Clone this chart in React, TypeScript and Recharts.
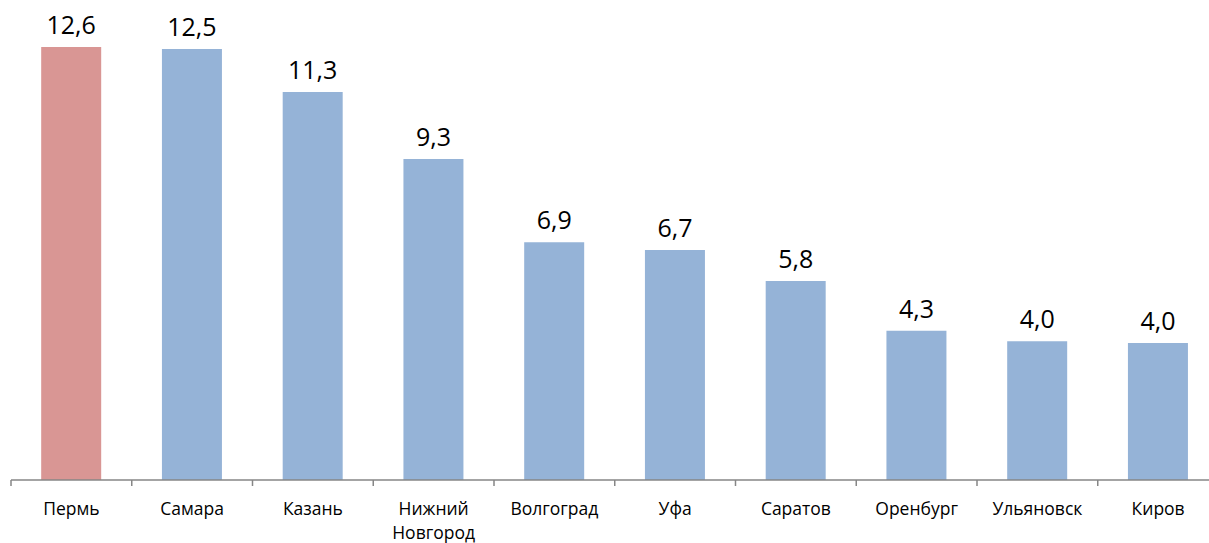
import React from "react";
import { BarChart, Bar, XAxis, YAxis, Cell, LabelList } from "recharts";

const categories = [
  "Пермь",
  "Самара",
  "Казань",
  "Нижний\nНовгород",
  "Волгоград",
  "Уфа",
  "Саратов",
  "Оренбург",
  "Ульяновск",
  "Киров",
];
const values = [12.6, 12.54, 11.29, 9.34, 6.92, 6.69, 5.79, 4.34, 4.04, 3.99];
const highlightIndex = 0;

const CHART_W = 1222;
const CHART_H = 543;
const MARGIN = { top: 47, right: 3.5, left: 11, bottom: 3 };
const BAND = (CHART_W - MARGIN.left - MARGIN.right) / categories.length;

const data = categories.map((name, i) => ({ name, value: values[i] }));

const fmt = (v: number) => v.toFixed(1).replace(".", ",");

function CategoryTick(props: any) {
  const { x, y, payload } = props;
  const lines = String(payload.value).split("\n");
  const left = x - BAND / 2;
  return (
    <g>
      <line x1={left} y1={y} x2={left} y2={y + 6} stroke="#868686" strokeWidth={1.5} />
      <text
        x={x}
        y={y + 35}
        textAnchor="middle"
        fontSize={17.5}
        fontFamily="'Open Sans', sans-serif"
        fill="#000"
      >
        {lines.map((l, i) => (
          <tspan key={i} x={x} dy={i === 0 ? 0 : 23.5}>
            {l}
          </tspan>
        ))}
      </text>
    </g>
  );
}

export default function App() {
  return (
    <div
      style={{
        position: "absolute",
        left: 0,
        top: 0,
        width: 1209,
        height: 543,
        overflow: "hidden",
        background: "#fff",
      }}
    >
      <BarChart
        width={CHART_W}
        height={CHART_H}
        data={data}
        margin={MARGIN}
        barCategoryGap="25%"
      >
        <XAxis
          dataKey="name"
          interval={0}
          height={60}
          tickSize={0}
          tickMargin={0}
          axisLine={{ stroke: "#868686", strokeWidth: 1.5 }}
          tickLine={false}
          tick={<CategoryTick />}
        />
        <YAxis hide domain={[0, 12.6]} />
        <Bar dataKey="value" isAnimationActive={false}>
          {data.map((_, i) => (
            <Cell key={i} fill={i === highlightIndex ? "#D99694" : "#95B3D7"} />
          ))}
          <LabelList
            dataKey="value"
            position="top"
            offset={13}
            formatter={(v: any) => fmt(Number(v))}
            style={{ fontSize: 25, fontFamily: "'Open Sans', sans-serif", fill: "#000" }}
          />
        </Bar>
      </BarChart>
    </div>
  );
}
